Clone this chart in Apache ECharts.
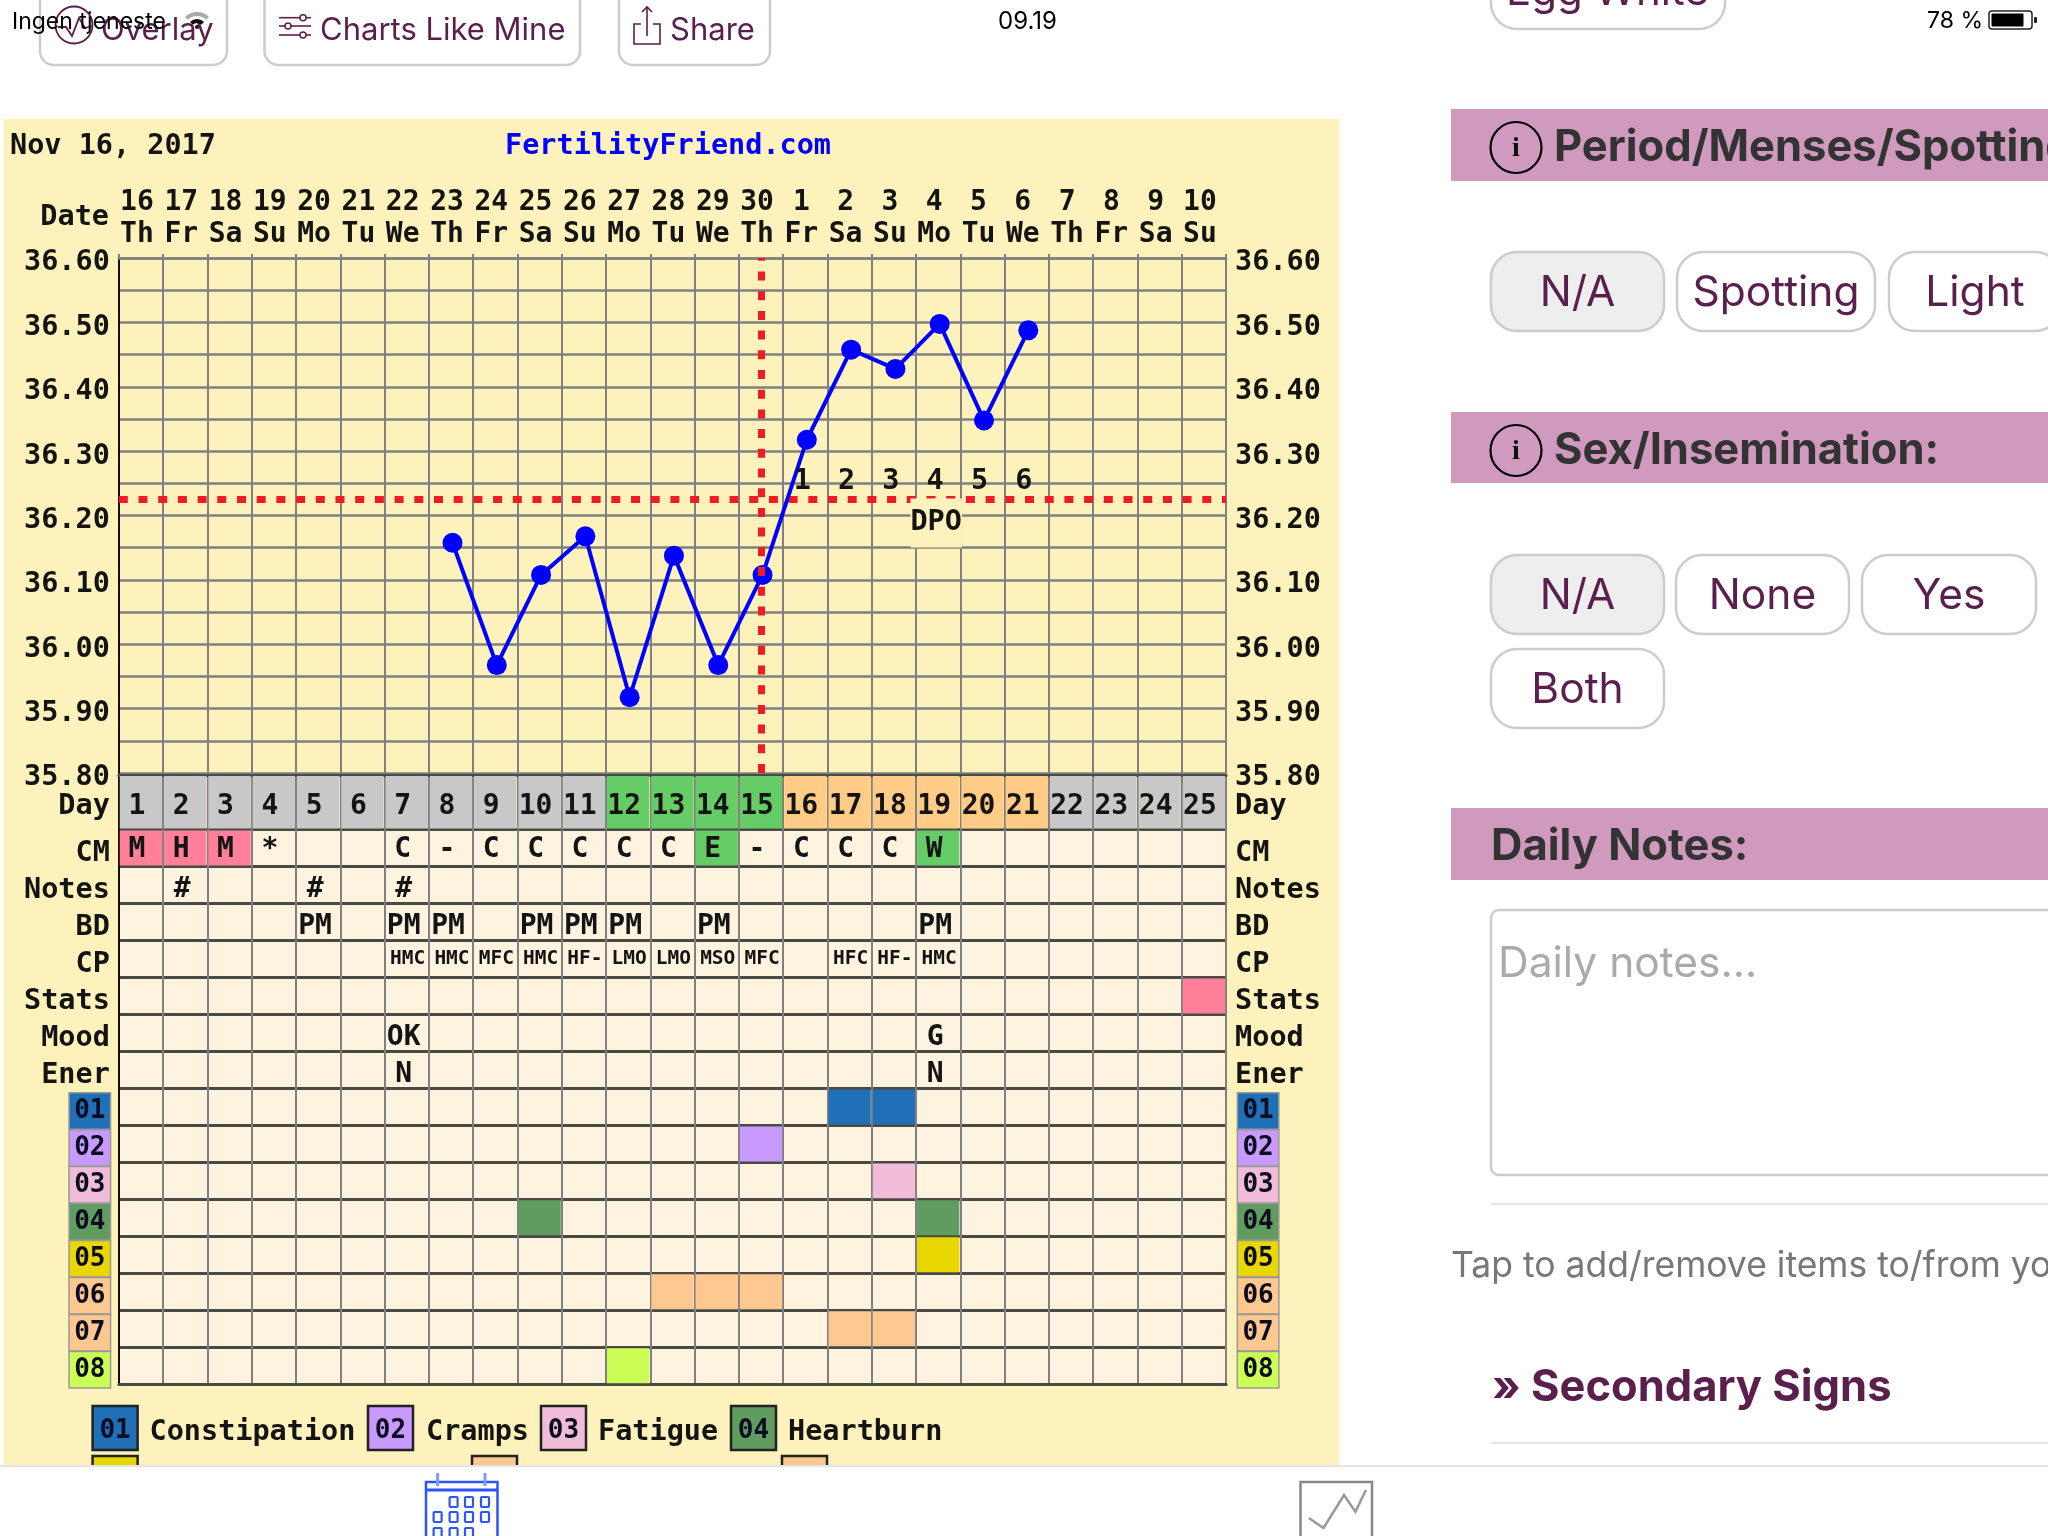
<!DOCTYPE html>
<html>
<head>
<meta charset="utf-8">
<style>html,body{margin:0;padding:0;background:#fff}#c{width:2048px;height:1536px}</style>
<script src="https://cdn.jsdelivr.net/npm/echarts@6/dist/echarts.min.js"></script>
</head>
<body>
<div id="c"></div>
<script>
const dates = ['16','17','18','19','20','21','22','23','24','25','26','27','28','29','30','1','2','3','4','5','6','7','8','9','10'];
const weekdays = ['Th','Fr','Sa','Su','Mo','Tu','We','Th','Fr','Sa','Su','Mo','Tu','We','Th','Fr','Sa','Su','Mo','Tu','We','Th','Fr','Sa','Su'];
const cycleDays = ['1','2','3','4','5','6','7','8','9','10','11','12','13','14','15','16','17','18','19','20','21','22','23','24','25'];
const phases = ['g','g','g','g','g','g','g','g','g','g','g','f','f','f','f','l','l','l','l','l','l','g','g','g','g'];
const temps = [null,null,null,null,null,null,null,36.16,35.97,36.11,36.17,35.92,36.14,35.97,36.11,36.32,36.46,36.43,36.50,36.35,36.49,null,null,null,null];
const tempTicks = ['36.60','36.50','36.40','36.30','36.20','36.10','36.00','35.90','35.80'];
const coverline = 36.225;
const ovulationDate = '30';
const dpoLabels = ['1','2','3','4','5','6'];
const dpoFirstIndex = 15;
const dpoLevel = 36.255;
const dpoNameLevel = 36.19;
const rows = ['CM','Notes','BD','CP','Stats','Mood','Ener','01','02','03','04','05','06','07','08'];
const cmValues = ['M','H','M','*','','','C','-','C','C','C','C','C','E','-','C','C','C','W','','','','','',''];
const cmFill = {0:'pink',1:'pink',2:'pink',13:'green',18:'green'};
const notesValues = ['','#','','','#','','#','','','','','','','','','','','','','','','','','',''];
const bdValues = ['','','','','PM','','PM','PM','','PM','PM','PM','','PM','','','','','PM','','','','','',''];
const cpValues = ['','','','','','','HMC','HMC','MFC','HMC','HF-','LMO','LMO','MSO','MFC','','HFC','HF-','HMC','','','','','',''];
const statsFill = {24:'pink'};
const moodValues = ['','','','','','','OK','','','','','','','','','','','','G','','','','','',''];
const energyValues = ['','','','','','','N','','','','','','','','','','','','N','','','','','',''];
const symptomDays = {'01':[17,18],'02':[15],'03':[18],'04':[10,19],'05':[19],'06':[13,14,15],'07':[17,18],'08':[12]};
const symptomColors = {'01':'#2070B8','02':'#C899FF','03':'#F0BCD8','04':'#609C60','05':'#E8D800','06':'#FFC890','07':'#FFC890','08':'#CCFF55'};
const legendNames = ['Constipation','Cramps','Fatigue','Heartburn'];

const MONO = '"DejaVu Sans Mono"';
const INK = '#141414';
const YELLOW = '#FDF1BC';
const CELL = '#FDF3DF';
const PLUM = '#5A1F4C';
const GRID = '#808080';
const DARK = '#4a4a44';
const RED = '#EE1C25';
const phaseColor = {g:'#C8C8C8', f:'#66CC66', l:'#FFCC88'};
const namedFill = {pink:'#FF8098', green:'#66CC66'};
const L = 118.8, W = 1107.3;

// table cells ------------------------------------------------------------
const tableCells = [];
function pushText(rowName, values){
  values.forEach((t, d) => { if (t) tableCells.push({value:[d, rows.indexOf(rowName)], text:t, row:rowName}); });
}
function pushFill(rowName, map){
  Object.keys(map).forEach(d => tableCells.push({value:[+d, rows.indexOf(rowName)], fill:namedFill[map[d]], row:rowName}));
}
pushFill('CM', cmFill);
pushFill('Stats', statsFill);
pushText('CM', cmValues); pushText('Notes', notesValues); pushText('BD', bdValues);
pushText('CP', cpValues); pushText('Mood', moodValues); pushText('Ener', energyValues);
Object.keys(symptomDays).forEach(k => symptomDays[k].forEach(day =>
  tableCells.push({value:[day-1, rows.indexOf(k)], fill:symptomColors[k], row:k})));
const dayCells = cycleDays.map((t, d) => ({value:[d, 0], text:t, fill:phaseColor[phases[d]], row:'Day'}));

function renderCell(source){
  return function(params, api){
    const item = source[params.dataIndex];
    const c = api.coord([api.value(0), api.value(1)]);
    const s = api.size([1, 1]);
    const kids = [];
    if (item.fill) kids.push({type:'rect', shape:{x:c[0]-s[0]/2+1, y:c[1]-s[1]/2+1, width:s[0]-2, height:s[1]-2}, style:{fill:item.fill}});
    if (item.text) {
      const small = item.row === 'CP';
      const dy = item.row === 'CP' ? 0 : item.row === 'Day' ? 4 : item.row === 'CM' ? 2 : 5;
      const dx = small ? 1 : item.row === 'CM' || item.row === 'Day' ? -4 : -3;
      kids.push({type:'text', style:{text:item.text, x:c[0]+dx, y:c[1]+dy, fill:INK,
        font:(small?'bold 19.5px ':'bold 28px ')+MONO, align:'center', verticalAlign:'middle', textAlign:'center', textVerticalAlign:'middle'}});
    }
    return {type:'group', children:kids};
  };
}
function renderCoverline(params, api){
  const y = api.coord([0, api.value(1)])[1];
  const box = params.coordSys;
  return {type:'line', shape:{x1:box.x, y1:y, x2:box.x+box.width, y2:y},
    style:{stroke:RED, lineWidth:7, lineDash:[9,10.7], lineCap:'butt', fill:null}};
}

// row labels -------------------------------------------------------------
const rich = {t:{fontFamily:MONO, fontWeight:'bold', fontSize:28.5, color:INK, padding:[4,0,0,0]}, gap:{width:3}};
Object.keys(symptomColors).forEach(k => {
  rich['s'+k] = {fontFamily:MONO, fontWeight:'bold', fontSize:26, color:'#0c0c20', backgroundColor:symptomColors[k], borderColor:'#999', borderWidth:1.5, width:40, height:35, lineHeight:35, align:'center'};
});
const rowFmt = v => symptomColors[v] ? '{s'+v+'|'+v+'}' : '{t|'+v+'}';
const rowFmtRight = v => symptomColors[v] ? '{gap|}{s'+v+'|'+v+'}' : '{t|'+v+'}';

// page furniture ---------------------------------------------------------
const g = [];
const txt = (text,x,y,font,fill,align,extra) => g.push({type:'text', z:60, style:Object.assign({text,x,y,font,fill,textAlign:align||'left',align:align||'left',textVerticalAlign:'middle',verticalAlign:'middle'},extra||{})});
const box = (x,y,w,h,r,fill,stroke,lw,z) => g.push({type:'rect', z:z||50, shape:{x,y,width:w,height:h,r}, style:{fill:fill||'none',stroke:stroke||'none',lineWidth:lw||0}});
const poly = (pts,stroke,lw,z) => g.push({type:'polyline', z:z||60, shape:{points:pts}, style:{stroke,lineWidth:lw,fill:'none'}});
const UI = 'Inter';

box(3.5,119,1335.5,1346,0,YELLOW,null,0,-10);
// top bar
box(40,-20,187,85,14,'#fff','#ccc',2.5);
box(264.5,-20,315.5,85,14,'#fff','#ccc',2.5);
box(619,-20,151,85,14,'#fff','#ccc',2.5);
g.push({type:'circle',z:55,shape:{cx:74,cy:25,r:18.5},style:{fill:'none',stroke:PLUM,lineWidth:1.8}});
poly([[58,27],[66,27],[72,36],[79,18],[85,28],[92,26]],PLUM,1.8,55);
txt('Overlay',101,31,'31px '+UI,PLUM,'left');
[[17.7,303],[26,288],[35,303]].forEach(a=>{ poly([[279,a[0]],[311,a[0]]],PLUM,1.6); g.push({type:'circle',z:61,shape:{cx:a[1],cy:a[0],r:3},style:{fill:'#fff',stroke:PLUM,lineWidth:1.5}}); });
txt('Charts Like Mine',320,31,'31px '+UI,PLUM);
poly([[641,24],[634,24],[634,44],[660,44],[660,24],[653,24]],PLUM,1.6);
poly([[647,36],[647,7]],PLUM,1.6); poly([[642,12],[647,7],[652,12]],PLUM,1.6);
txt('Share',670,31,'31px '+UI,PLUM);
txt('Ingen tjeneste',12,22,'23px Inter','#000');
g.push({type:'arc',z:61,shape:{cx:197,cy:29,r:15,startAngle:-2.35,endAngle:-0.79},style:{stroke:'#aaa',lineWidth:4,fill:'none'}});
g.push({type:'arc',z:62,shape:{cx:197,cy:29,r:8,startAngle:-2.35,endAngle:-0.79},style:{stroke:'#111',lineWidth:4,fill:'none'}});
g.push({type:'circle',z:62,shape:{cx:197,cy:27,r:2},style:{fill:'#111'}});
txt('09.19',998,21.5,'24px Inter','#000');
txt('78 %',1927,21.5,'23px Inter','#000');
box(1989,11,43,18,3,'#fff','#222',1.5);
box(1991.5,13.5,32,13,1,'#000');
box(2034,17,3,6,1,'#222');
// right column
box(1491,-60,234,89,26,'#fff','#ccc',2.5);
txt('Egg White',1506,-8,'42px '+UI,PLUM);
function band(y,h,label,info,labelX){
  box(1451,y,597,h,0,'#CF9ABD');
  if (info) {
    g.push({type:'circle',z:61,shape:{cx:1516,cy:y+38.5,r:25.5},style:{fill:'none',stroke:'#000',lineWidth:2.2}});
    txt('i',1516,y+40,'bold 28px "Liberation Serif"','#111','center');
  }
  txt(label,labelX,y+39,'bold 43.5px '+UI,'#333','left',{textShadowColor:'#e8e8e8',textShadowBlur:0,textShadowOffsetY:1.5});
}
band(109,72,'Period/Menses/Spotting',true,1554);
band(412,71,'Sex/Insemination:',true,1554);
band(808,72,'Daily Notes:',false,1491);
function pill(x,y,w,h,label,on){
  box(x,y,w,h,26,on?'#EEEEEE':'#fff','#ccc',2.5);
  txt(label,x+w/2,y+h/2+2,'42.5px '+UI,PLUM,'center');
}
pill(1491,252,173,79,'N/A',true); pill(1677,252,198,79,'Spotting'); pill(1889,252,172,79,'Light');
pill(1491,555,173,79,'N/A',true); pill(1676,555,173,79,'None'); pill(1862,555,174,79,'Yes');
pill(1491,649,173,79,'Both');
box(1491,910,600,265,8,'#fff','#ccc',2.5);
txt('Daily notes...',1498,964,'42.5px '+UI,'#aaa');
poly([[1491,1204],[2048,1204]],'#e6e6e6',2);
txt('Tap to add/remove items to/from yo',1451,1266,'35.5px '+UI,'#777');
txt('» Secondary Signs',1492,1388,'bold 43.5px '+UI,PLUM);
poly([[1491,1443],[2048,1443]],'#e6e6e6',2);
// chart header
txt('Nov 16, 2017',10,147,'bold 28.5px '+MONO,INK);
txt('FertilityFriend.com',505,147,'bold 28.5px '+MONO,'#0000FF');
txt('Date',109,218,'bold 28.5px '+MONO,INK,'right');
// keyword legend
const legendX = [[92.6,149.5],[368,426],[541,598],[731,788]];
Object.keys(symptomColors).slice(0,4).forEach((k,i)=>{
  box(legendX[i][0],1406,45,44,0,symptomColors[k],'#222',2.5,40);
  txt(k,legendX[i][0]+22.5,1431,'bold 26px '+MONO,'#0c0c20','center');
  txt(legendNames[i],legendX[i][1],1433,'bold 28.5px '+MONO,INK);
});
box(92.6,1456,45,30,0,symptomColors['05'],'#222',2.5,40);
box(472,1456,45,30,0,symptomColors['06'],'#222',2.5,40);
box(782,1456,45,30,0,symptomColors['07'],'#222',2.5,40);
// bottom bar
box(0,1465,2048,71,0,'#fff',null,0,45);
poly([[0,1466],[2048,1466]],'#e4e4e4',2,46);
const BLUE = '#2A55FF';
box(426,1482,71.5,80,0,'#fff',BLUE,2.5,50);
poly([[426,1490],[497.5,1490]],BLUE,3);
poly([[437.6,1473],[437.6,1486]],'#7f9aff',3); poly([[485,1473],[485,1486]],'#7f9aff',3);
[[1502,[453.6,469,485]],[1517,[437.6,453.6,469,485]],[1533,[437.6,453.6,469]]].forEach(r=>r[1].forEach(x=>box(x-4,r[0]-5,8,10,1,'#fff',BLUE,2.2,55)));
box(1300.5,1482,71.5,80,0,'#fff','#888',2.5,50);
poly([[1308.8,1518],[1323.5,1528],[1344,1495],[1355.4,1511.7],[1366,1490]],'#999',2.5,55);

// option -----------------------------------------------------------------
const axisText = {color:INK,fontFamily:MONO,fontWeight:'bold',fontSize:28.5};
const hiddenX = (gridIndex) => ({gridIndex, type:'category', data:dates, show:false});
const labelOnly = (gridIndex, position, extra) => Object.assign({gridIndex, position,
  axisLine:{show:false}, axisTick:{show:false}, splitLine:{show:false}}, extra);
const tempFmt = (v,i)=>tempTicks[tempTicks.length-1-i];
const option = {
  animation:false,
  backgroundColor:'#fff',
  graphic:{elements:g},
  grid:[
    {left:L, width:W, top:258, height:515, show:true, backgroundColor:YELLOW, borderWidth:0},
    {left:L, width:W, top:775, height:54.5, show:true, backgroundColor:YELLOW, borderWidth:0},
    {left:L, width:W, top:829.5, height:554.8, show:true, backgroundColor:CELL, borderWidth:0},
    {left:L, width:W, top:263, height:515},
    {left:L, width:W, top:779, height:54.5},
    {left:L, width:W, top:833.5, height:554.8},
    {left:L+1.5, width:W, top:259.5, height:515}
  ],
  xAxis:[
    {gridIndex:0, type:'category', position:'top', data:dates,
     axisLine:{lineStyle:{color:GRID,width:2.5}}, axisTick:{show:true,length:4,interval:0,lineStyle:{color:GRID,width:2}},
     splitLine:{show:true,interval:0,lineStyle:{color:GRID,width:2}},
     axisLabel:Object.assign({interval:0,margin:7,hideOverlap:false,lineHeight:32.5,padding:[0,8,0,0],
       formatter:(v,i)=>v+'\n'+weekdays[i]},axisText,{fontSize:28})},
    {gridIndex:1, type:'category', position:'top', data:cycleDays,
     axisLine:{lineStyle:{color:DARK,width:3}}, axisTick:{show:false}, axisLabel:{show:false},
     splitLine:{show:true,interval:0,lineStyle:{color:GRID,width:2}}},
    {gridIndex:2, type:'category', position:'bottom', data:cycleDays,
     axisLine:{lineStyle:{color:DARK,width:3}}, axisTick:{show:false}, axisLabel:{show:false},
     splitLine:{show:true,interval:0,lineStyle:{color:GRID,width:2}}},
    hiddenX(3), hiddenX(4), hiddenX(5), hiddenX(6)
  ],
  yAxis:[
    {gridIndex:0, type:'value', position:'left', min:35.8, max:36.6, interval:0.1,
     axisLine:{show:true,lineStyle:{color:'#111',width:2}}, axisTick:{show:false}, axisLabel:{show:false},
     splitLine:{show:true,lineStyle:{color:GRID,width:2.5}},
     minorTick:{show:false,splitNumber:2}, minorSplitLine:{show:true,lineStyle:{color:GRID,width:2.5}}},
    {gridIndex:0, type:'value', position:'right', min:35.8, max:36.6, interval:0.1,
     axisLine:{show:true,lineStyle:{color:GRID,width:2}}, axisTick:{show:false}, axisLabel:{show:false}, splitLine:{show:false}},
    {gridIndex:1, type:'category', position:'left', data:['Day'],
     axisLine:{show:true,lineStyle:{color:'#111',width:2}}, axisTick:{show:false}, axisLabel:{show:false}, splitLine:{show:false}},
    {gridIndex:1, type:'category', position:'right', data:['Day'],
     axisLine:{show:true,lineStyle:{color:GRID,width:2}}, axisTick:{show:false}, axisLabel:{show:false}, splitLine:{show:false}},
    {gridIndex:2, type:'category', position:'left', inverse:true, data:rows,
     axisLine:{show:true,lineStyle:{color:'#111',width:2}}, axisTick:{show:false}, axisLabel:{show:false},
     splitLine:{show:true,interval:0,lineStyle:{color:DARK,width:3}}},
    {gridIndex:2, type:'category', position:'right', inverse:true, data:rows,
     axisLine:{show:true,lineStyle:{color:GRID,width:2}}, axisTick:{show:false}, axisLabel:{show:false}, splitLine:{show:false}},
    labelOnly(3,'left',{type:'value',min:35.8,max:36.6,interval:0.1,axisLabel:Object.assign({margin:9,formatter:tempFmt},axisText)}),
    labelOnly(3,'right',{type:'value',min:35.8,max:36.6,interval:0.1,axisLabel:Object.assign({margin:9,formatter:tempFmt},axisText)}),
    labelOnly(4,'left',{type:'category',data:['Day'],axisLabel:Object.assign({margin:9},axisText)}),
    labelOnly(4,'right',{type:'category',data:['Day'],axisLabel:Object.assign({margin:9},axisText)}),
    labelOnly(5,'left',{type:'category',inverse:true,data:rows,axisLabel:{interval:0,margin:9,formatter:rowFmt,rich}}),
    labelOnly(5,'right',{type:'category',inverse:true,data:rows,axisLabel:{interval:0,margin:9,formatter:rowFmtRight,rich}}),
    {gridIndex:6, type:'value', min:35.8, max:36.6, interval:0.1, show:false}
  ],
  series:[
    {name:'coverline', type:'custom', xAxisIndex:0, yAxisIndex:0, data:[[0,coverline]], z:2, silent:true, encode:{x:0,y:1}, renderItem:renderCoverline},
    {name:'temperature', type:'line', xAxisIndex:6, yAxisIndex:12, data:temps, z:3, silent:true,
     symbol:'circle', symbolSize:20, showSymbol:true, lineStyle:{color:'#0000FF',width:4}, itemStyle:{color:'#0000FF'}},
    {name:'ovulation', type:'line', xAxisIndex:0, yAxisIndex:0, data:[], z:4, silent:true,
     markLine:{silent:true, z:4, symbol:'none', label:{show:false}, animation:false,
       lineStyle:{color:RED,width:7,type:[9,10.7],cap:'butt'}, data:[{xAxis:ovulationDate}]}},
    {name:'dpo', type:'scatter', xAxisIndex:0, yAxisIndex:0, z:6, silent:true, symbolSize:0, itemStyle:{opacity:1},
     data:dpoLabels.map((t,i)=>({value:[dpoFirstIndex+i,dpoLevel],label:{formatter:t}})),
     label:Object.assign({show:true,position:'inside',offset:[-3,1]},axisText)},
    {name:'dpoName', type:'scatter', xAxisIndex:0, yAxisIndex:0, z:6, silent:true, symbolSize:0, itemStyle:{opacity:1},
     data:[{value:[dpoFirstIndex+3,dpoNameLevel]}],
     label:Object.assign({show:true,position:'inside',offset:[-2,1],formatter:'DPO',backgroundColor:YELLOW,padding:[12,0,8,0]},axisText)},
    {name:'day', type:'custom', xAxisIndex:1, yAxisIndex:2, data:dayCells, z:3, silent:true, encode:{x:0,y:1}, renderItem:renderCell(dayCells)},
    {name:'cells', type:'custom', xAxisIndex:2, yAxisIndex:4, data:tableCells, z:3, silent:true, encode:{x:0,y:1}, renderItem:renderCell(tableCells)}
  ]
};
const chart = echarts.init(document.getElementById('c'), null, {renderer:'canvas', width:2048, height:1536});
chart.setOption(option);
</script>
</body>
</html>
